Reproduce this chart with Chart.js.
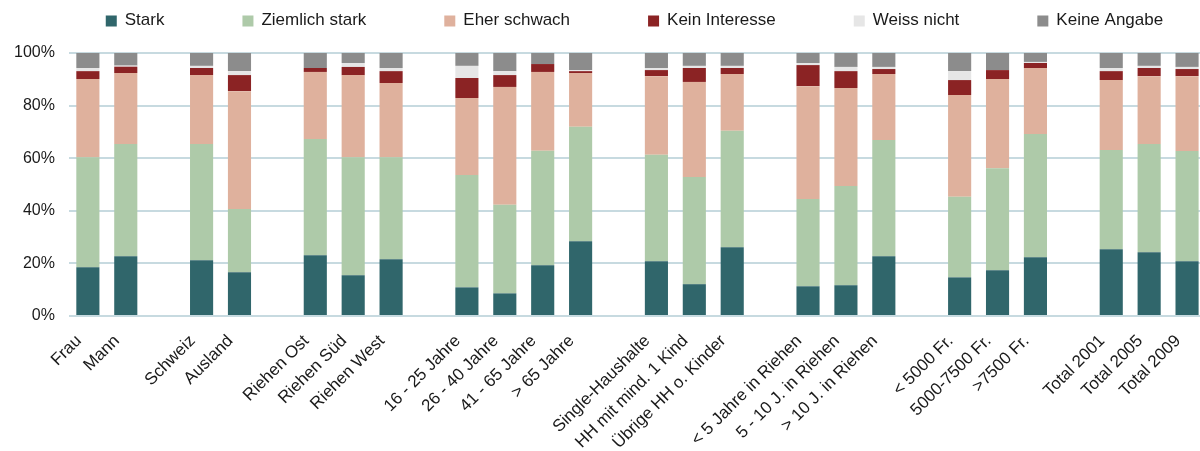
<!DOCTYPE html>
<html>
<head>
<meta charset="utf-8">
<script src="https://cdn.jsdelivr.net/npm/chart.js@4/dist/chart.umd.min.js"></script>
<style>
  html, body { margin: 0; padding: 0; background: #fff; overflow: hidden; }
  body { width: 1200px; height: 451px; }
  #wrap { width: 1206px; height: 451px; position: relative; }
</style>
</head>
<body>
<div id="wrap"><canvas id="c"></canvas></div>
<script>
// Categories (empty strings are the gaps between groups)
const categories = [
  "Frau", "Mann", "",
  "Schweiz", "Ausland", "",
  "Riehen Ost", "Riehen Süd", "Riehen West", "",
  "16 - 25 Jahre", "26 - 40 Jahre", "41 - 65 Jahre", "> 65 Jahre", "",
  "Single-Haushalte", "HH mit mind. 1 Kind", "Übrige HH o. Kinder", "",
  "< 5 Jahre in Riehen", "5 - 10 J. in Riehen", "> 10 J. in Riehen", "",
  "< 5000 Fr.", "5000-7500 Fr.", ">7500 Fr.", "",
  "Total 2001", "Total 2005", "Total 2009"
];

const seriesNames = ["Stark", "Ziemlich stark", "Eher schwach", "Kein Interesse", "Weiss nicht", "Keine Angabe"];

const stark = [18.5, 22.7, null, 21.2, 16.6, null, 23.1, 15.5, 21.6, null, 10.9, 8.6, 19.3, 28.4, null, 20.8, 12.1, 26.1, null, 11.3, 11.7, 22.7, null, 14.7, 17.4, 22.3, null, 25.4, 24.2, 20.8];
const ziemlichStark = [41.9, 42.7, null, 44.2, 24.1, null, 44.2, 44.9, 38.8, null, 42.7, 33.7, 43.5, 43.6, null, 40.5, 40.8, 44.3, null, 33.2, 37.7, 44.2, null, 30.6, 38.8, 46.9, null, 37.7, 41.2, 41.9];
const eherSchwach = [29.7, 27.0, null, 26.2, 44.8, null, 25.5, 31.2, 28.2, null, 29.3, 44.8, 30.0, 20.4, null, 29.9, 36.1, 21.6, null, 42.9, 37.3, 25.1, null, 38.7, 33.9, 25.1, null, 26.6, 25.8, 28.5];
const keinInteresse = [3.0, 2.4, null, 2.7, 6.1, null, 1.5, 3.1, 4.5, null, 7.6, 4.5, 3.0, 0.7, null, 2.3, 5.3, 2.3, null, 8.0, 6.4, 1.9, null, 5.7, 3.4, 1.9, null, 3.4, 3.1, 2.7];
const weissNicht = [1.2, 0.4, null, 0.8, 1.5, null, 0.0, 1.5, 1.2, null, 4.6, 1.5, 0.0, 0.4, null, 0.8, 0.8, 0.8, null, 0.8, 1.6, 0.8, null, 3.4, 0.0, 0.4, null, 1.2, 0.8, 0.8];
const keineAngabe = [5.7, 4.8, null, 4.9, 6.9, null, 5.7, 3.8, 5.7, null, 4.9, 6.9, 4.2, 6.5, null, 5.7, 4.9, 4.9, null, 3.8, 5.3, 5.3, null, 6.9, 6.5, 3.4, null, 5.7, 4.9, 5.3];

const yTicks = [0, 20, 40, 60, 80, 100];

const colors = ["#30666b", "#aecaa9", "#dfb19d", "#8b2324", "#e6e6e6", "#8c8c8c"];
const seriesData = [stark, ziemlichStark, eherSchwach, keinInteresse, weissNicht, keineAngabe];

const FONT = "'Liberation Sans', Arial, sans-serif";
const VISIBLE_WIDTH = 1200;

const customLegend = {
  id: 'customLegend',
  afterDraw(chart) {
    const ctx = chart.ctx;
    const ca = chart.chartArea;
    const fontSize = 17;
    const box = 11;
    const gapBoxText = 8;
    const gapItems = 78;
    ctx.save();
    ctx.font = fontSize + "px " + FONT;
    const items = chart.data.datasets.map(ds => ({
      label: ds.label, color: ds.backgroundColor,
      w: box + gapBoxText + ctx.measureText(ds.label).width
    }));
    const total = items.reduce((s, it) => s + it.w, 0) + gapItems * (items.length - 1);
    let x = (ca.left + Math.min(ca.right, VISIBLE_WIDTH)) / 2 - total / 2;
    const yc = 20;
    ctx.textBaseline = 'middle';
    ctx.textAlign = 'left';
    for (const it of items) {
      ctx.fillStyle = it.color;
      ctx.fillRect(x, yc - box / 2 + 1, box, box);
      ctx.fillStyle = "#1a1a1a";
      ctx.fillText(it.label, x + box + gapBoxText, yc);
      x += it.w + gapItems;
    }
    ctx.restore();
  }
};

new Chart(document.getElementById('c'), {
  type: 'bar',
  data: {
    labels: categories,
    datasets: seriesNames.map((name, i) => ({
      label: name,
      data: seriesData[i],
      backgroundColor: colors[i],
      borderWidth: 0,
      barPercentage: 0.61,
      categoryPercentage: 1.0
    }))
  },
  options: {
    responsive: true,
    maintainAspectRatio: false,
    animation: false,
    layout: { padding: { top: 53, right: 0, left: 0, bottom: -17 } },
    plugins: {
      legend: { display: false },
      tooltip: { enabled: false }
    },
    scales: {
      x: {
        stacked: true,
        grid: { display: false, drawTicks: false },
        border: { display: false },
        afterFit(scale) { scale.paddingRight = 0; scale.paddingLeft = 0; },
        ticks: {
          autoSkip: false,
          minRotation: 45,
          maxRotation: 45,
          padding: 15,
          labelOffset: -9,
          color: "#1a1a1a",
          font: { family: FONT, size: 17 }
        }
      },
      y: {
        stacked: true,
        min: 0,
        max: 100,
        afterBuildTicks(axis) { axis.ticks = yTicks.map(v => ({ value: v })); },
        grid: { color: "#c7dae0", lineWidth: 2, drawTicks: false },
        border: { display: false },
        ticks: {
          padding: 14,
          color: "#1a1a1a",
          font: { family: FONT, size: 16 },
          callback: v => v + "%"
        }
      }
    }
  },
  plugins: [customLegend]
});
</script>
</body>
</html>
